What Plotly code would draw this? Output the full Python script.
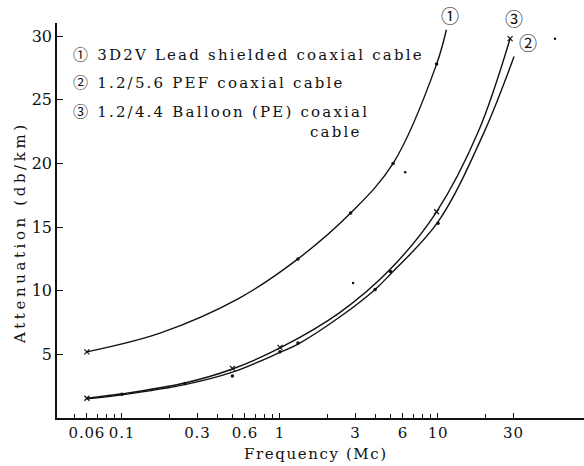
import plotly.graph_objects as go

# Attenuation versus frequency for three coaxial cables (log frequency axis)

# Smooth curves through the measured points
c1_freq = [0.06, 0.174, 0.55, 1.3, 2.8, 5.2, 9.8, 11.3]
c1_db = [5.2, 6.67, 9.4, 12.5, 16.1, 20.0, 27.8, 30.5]

c2_freq = [0.06, 0.1, 0.25, 0.5, 1.0, 1.3, 2.4, 4.0, 5.0, 10.0, 19.5, 30.3]
c2_db = [1.5, 1.82, 2.62, 3.6, 5.15, 5.8, 7.95, 10.1, 11.3, 15.4, 22.4, 28.4]

c3_freq = [0.06, 0.1, 0.25, 0.5, 1.0, 2.4, 5.0, 9.8, 18.0, 28.6]
c3_db = [1.55, 1.9, 2.75, 3.85, 5.5, 8.3, 11.7, 16.2, 22.5, 29.8]

# Measured points
c1_pt_freq = [1.3, 2.8, 5.2, 9.8]
c1_pt_db = [12.5, 16.1, 20.0, 27.8]
cross_freq = [0.06, 0.06, 0.5, 1.0, 9.8, 28.6]
cross_db = [5.2, 1.55, 3.9, 5.55, 16.2, 29.8]
c2_pt_freq = [0.1, 0.25, 0.5, 1.0, 1.3, 4.0, 5.0, 10.0]
c2_pt_db = [1.86, 2.72, 3.3, 5.2, 5.9, 10.1, 11.5, 15.3]
extra_freq = [2.9, 6.2, 55.0]
extra_db = [10.6, 19.3, 29.8]

x_tickvals = [0.06, 0.1, 0.3, 0.6, 1, 3, 6, 10, 30]
x_ticktext = ["0.06", "0.1", "0.3", "0.6", "1", "3", "6", "10", "30"]
x_minor = [0.05, 0.07, 0.08, 0.09, 0.2, 0.4, 0.5, 0.7, 0.8, 0.9,
           2, 4, 5, 7, 8, 9, 20]
y_tickvals = [5, 10, 15, 20, 25, 30]

legend_lines = ["① 3D2V Lead shielded coaxial cable",
                "② 1.2/5.6 PEF coaxial cable",
                "③ 1.2/4.4 Balloon (PE) coaxial"]
curve_tags = ["①", "②", "③"]

FONT = "DejaVu Serif, Liberation Serif, Noto Sans CJK JP, serif"
INK = "#111111"

W, H = 584, 466
L, R, T, B = 57, 0, 23, 48
PW, PH = W - L - R, H - T - B


def spaced(text, px):
    return f"<span style='letter-spacing:{px}px'>{text}</span>"


def px_x(x):
    return (x - L) / PW


def px_y(y):
    return (H - B - y) / PH


fig = go.Figure()

for fx, fy in [(c1_freq, c1_db), (c2_freq, c2_db), (c3_freq, c3_db)]:
    fig.add_trace(go.Scatter(x=fx, y=fy, mode="lines",
                             line=dict(color=INK, width=1.4, shape="spline", smoothing=1.0),
                             hoverinfo="skip"))

fig.add_trace(go.Scatter(x=cross_freq, y=cross_db, mode="markers",
                         marker=dict(symbol="x-thin", size=5,
                                     line=dict(color=INK, width=1.2))))
fig.add_trace(go.Scatter(x=c1_pt_freq + c2_pt_freq, y=c1_pt_db + c2_pt_db, mode="markers",
                         marker=dict(symbol="circle", size=3.5, color=INK)))
fig.add_trace(go.Scatter(x=extra_freq, y=extra_db, mode="markers",
                         marker=dict(symbol="circle", size=2.5, color=INK)))

annotations = []
# Key in the upper left
for text, ypx in zip(legend_lines, [55, 83, 112]):
    annotations.append(dict(x=px_x(71), y=px_y(ypx), xref="paper", yref="paper",
                            xanchor="left", yanchor="middle", showarrow=False,
                            text=spaced(text, 2.2), font=dict(family=FONT, size=15, color=INK)))
annotations.append(dict(x=px_x(364), y=px_y(132), xref="paper", yref="paper",
                        xanchor="right", yanchor="middle", showarrow=False,
                        text=spaced("cable", 2.2), font=dict(family=FONT, size=15, color=INK)))

# Curve tags at the upper ends
for tag, (xp, yp) in zip(curve_tags, [(450, 17), (528, 43), (514, 20)]):
    annotations.append(dict(x=px_x(xp), y=px_y(yp), xref="paper", yref="paper",
                            xanchor="center", yanchor="middle", showarrow=False,
                            text=tag, font=dict(family=FONT, size=18, color=INK)))

# Axis titles
annotations.append(dict(x=px_x(316), y=px_y(454), xref="paper", yref="paper",
                        xanchor="center", yanchor="middle", showarrow=False,
                        text=spaced("Frequency (Mc)", 1.6),
                        font=dict(family=FONT, size=15, color=INK)))
annotations.append(dict(x=px_x(20), y=px_y(233), xref="paper", yref="paper",
                        xanchor="center", yanchor="middle", showarrow=False, textangle=-90,
                        text=spaced("Attenuation (db/km)", 3.6),
                        font=dict(family=FONT, size=15, color=INK)))

fig.update_layout(
    width=W, height=H,
    margin=dict(l=L, r=R, t=T, b=B, pad=0),
    paper_bgcolor="white", plot_bgcolor="white",
    showlegend=False,
    annotations=annotations,
    xaxis=dict(type="log", range=[-1.411, 1.924],
               tickvals=x_tickvals, ticktext=[spaced(t, 0.8) for t in x_ticktext],
               ticks="inside", ticklen=5, tickwidth=1, tickcolor=INK,
               minor=dict(tickvals=x_minor, ticks="inside", ticklen=4,
                          tickwidth=1, tickcolor=INK, showgrid=False),
               showline=True, linecolor=INK, linewidth=1.5,
               showgrid=False, zeroline=False,
               tickfont=dict(family=FONT, size=15, color=INK)),
    yaxis=dict(range=[0, 31.03], tickvals=y_tickvals,
               ticks="inside", ticklen=6, tickwidth=1, tickcolor=INK,
               showline=True, linecolor=INK, linewidth=1.5,
               showgrid=False, zeroline=False,
               tickfont=dict(family=FONT, size=16, color=INK)),
)

fig.write_html("out.html")
